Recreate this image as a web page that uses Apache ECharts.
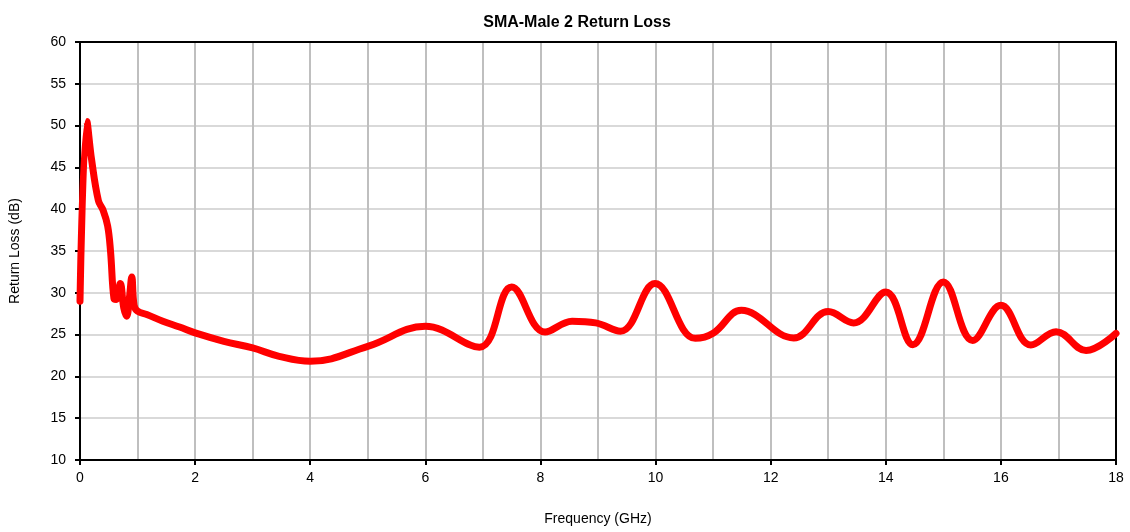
<!DOCTYPE html>
<html><head><meta charset="utf-8">
<script src="https://cdn.jsdelivr.net/npm/echarts@6/dist/echarts.min.js"></script>
<style>html,body{margin:0;padding:0;background:#fff}#c{width:1130px;height:532px}</style>
</head><body><div id="c"></div>
<script>
const freqGHz = [0.00,0.12,0.20,0.32,0.40,0.48,0.53,0.59,0.63,0.70,0.76,0.81,0.86,0.90,0.94,1.00,1.16,1.44,1.73,2.0,2.5,3.0,3.46,4.0,5.0,6.0,6.94,7.50,8.08,8.55,8.96,9.39,9.99,10.69,11.0,11.49,12.40,13.0,13.44,14.0,14.47,15.0,15.51,16.0,16.52,16.96,17.48,18.0];
const returnLossDB = [29.0,50.5,46.0,41.0,39.9,38.0,35.0,29.3,29.2,31.1,28.2,27.2,29.5,31.9,28.5,27.8,27.4,26.6,25.9,25.2,24.2,23.4,22.4,21.8,23.6,26.0,23.5,30.7,25.3,26.6,26.4,25.4,31.1,24.55,25.15,27.9,24.6,27.75,26.4,30.1,23.8,31.3,24.3,28.5,23.75,25.35,23.1,25.15];
const titleText = 'SMA-Male 2 Return Loss';
const xName = 'Frequency (GHz)';
const yName = 'Return Loss (dB)';

const font = 'Liberation Sans, Arial, sans-serif';
const chart = echarts.init(document.getElementById('c'));
const frameAxis = {show:true,axisLine:{show:true,onZero:false,lineStyle:{color:'#000',width:2}},axisTick:{show:false},axisLabel:{show:false},splitLine:{show:false}};
chart.setOption({
  animation:false,
  title:{text:titleText,left:572,top:10,textAlign:'center',textStyle:{fontFamily:font,fontSize:16,fontWeight:'bold',color:'#000'}},
  grid:{left:80,right:14,top:42,bottom:72},
  xAxis:[{type:'value',min:0,max:18,interval:2,
    name:xName,nameLocation:'middle',nameGap:52,nameTextStyle:{fontFamily:font,fontSize:14,color:'#000'},
    axisLine:{show:true,onZero:false,lineStyle:{color:'#000',width:2}},
    axisTick:{show:true,length:5,lineStyle:{color:'#000',width:2}},
    axisLabel:{fontFamily:font,fontSize:14,color:'#000',margin:11},
    splitLine:{show:true,lineStyle:{color:'#bfbfbf',width:2}},
    minorTick:{show:false,splitNumber:2},
    minorSplitLine:{show:true,lineStyle:{color:'#bfbfbf',width:2}}},
    Object.assign({type:'value',min:0,max:18,position:'top'},frameAxis)],
  yAxis:[{type:'value',min:10,max:60,interval:5,
    name:yName,nameLocation:'middle',nameGap:58,nameTextStyle:{fontFamily:font,fontSize:14,color:'#000'},
    axisLine:{show:true,onZero:false,lineStyle:{color:'#000',width:2}},
    axisTick:{show:true,length:5,lineStyle:{color:'#000',width:2}},
    axisLabel:{fontFamily:font,fontSize:14,color:'#000',margin:14},
    splitLine:{show:true,lineStyle:{color:'#d9d9d9',width:2}}},
    Object.assign({type:'value',min:10,max:60,position:'right'},frameAxis)],
  series:[{type:'line',data:freqGHz.map((f,i)=>[f,returnLossDB[i]]),smooth:0.4,showSymbol:false,
    lineStyle:{color:'#ff0000',width:7,join:'round',cap:'round'},itemStyle:{color:'#ff0000'}}]
});
</script></body></html>
